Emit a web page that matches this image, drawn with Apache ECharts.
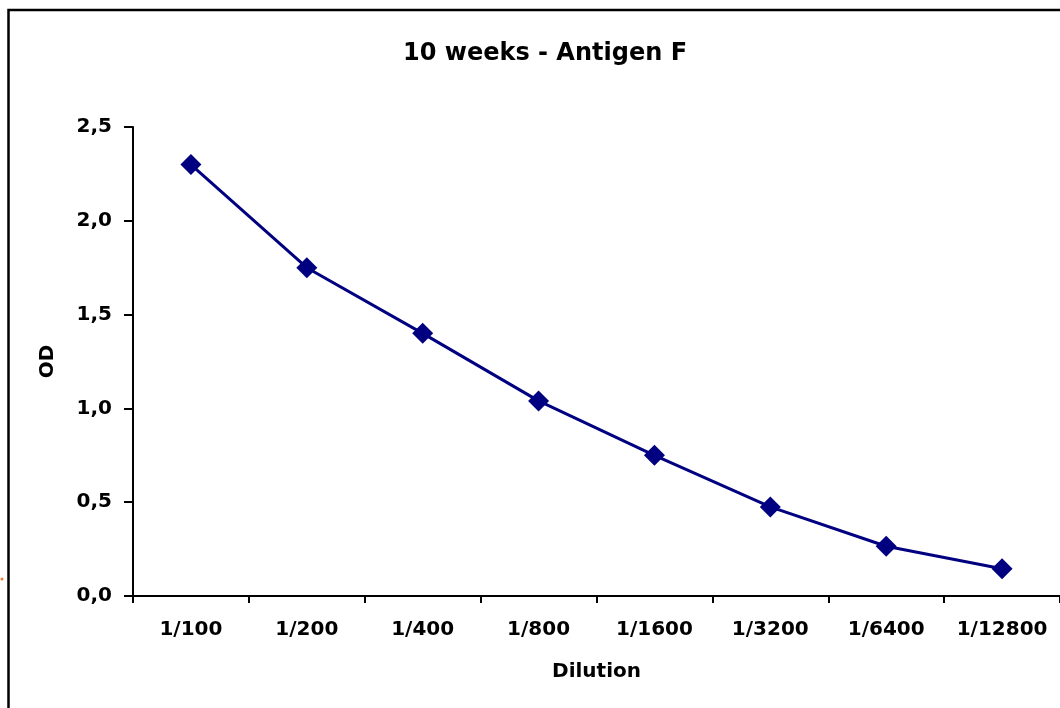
<!DOCTYPE html>
<html><head><meta charset="utf-8">
<script src="https://cdn.jsdelivr.net/npm/echarts@6/dist/echarts.min.js"></script>
<style>html,body{margin:0;padding:0;background:#fff}#c{width:1060px;height:708px}</style>
</head><body><div id="c"></div>
<script>
const categories = ['1/100','1/200','1/400','1/800','1/1600','1/3200','1/6400','1/12800'];
const odValues = [2.30, 1.75, 1.40, 1.04, 0.75, 0.475, 0.265, 0.145];
const yTicks = [0, 0.5, 1.0, 1.5, 2.0, 2.5];

const chart = echarts.init(document.getElementById('c'));
const font = '"DejaVu Sans", Verdana, sans-serif';
chart.setOption({
  animation: false,
  backgroundColor: '#fff',
  title: {
    text: '10 weeks - Antigen F', left: 540, top: 37, textAlign: 'center',
    textStyle: {fontFamily: font, fontWeight: 'bold', fontSize: 24, color: '#000'}
  },
  graphic: [
    {type: 'rect', shape: {x: 8.5, y: 10, width: 1200, height: 800}, style: {fill: 'none', stroke: '#000', lineWidth: 2.5}},
    {type: 'circle', shape: {cx: 2, cy: 579, r: 1.5}, style: {fill: '#f08030'}}
  ],
  grid: {left: 133, top: 127, right: 0, bottom: 112},
  xAxis: {
    type: 'category', data: categories, boundaryGap: true,
    name: 'Dilution', nameLocation: 'middle', nameGap: 66,
    nameTextStyle: {fontFamily: font, fontWeight: 'bold', fontSize: 20, color: '#000'},
    axisLine: {lineStyle: {color: '#000', width: 2}},
    axisTick: {show: true, interval: 0, length: 7, lineStyle: {color: '#000', width: 2}},
    axisLabel: {interval: 0, hideOverlap: false, fontFamily: font, fontWeight: 'bold', fontSize: 20, color: '#000', margin: 24}
  },
  yAxis: {
    type: 'value', min: 0, max: 2.5, interval: 0.5,
    name: 'OD', nameLocation: 'middle', nameGap: 75, nameRotate: 90,
    nameTextStyle: {fontFamily: font, fontWeight: 'bold', fontSize: 20, color: '#000'},
    axisLine: {show: true, lineStyle: {color: '#000', width: 2}},
    axisTick: {show: true, length: 9, lineStyle: {color: '#000', width: 2}},
    splitLine: {show: false},
    axisLabel: {fontFamily: font, fontWeight: 'bold', fontSize: 20, color: '#000', margin: 21,
      formatter: v => yTicks.includes(v) ? v.toFixed(1).replace('.', ',') : ''}
  },
  series: [{
    type: 'line', data: odValues,
    lineStyle: {color: '#000080', width: 3},
    itemStyle: {color: '#000080'},
    symbol: 'diamond', symbolSize: 21, showSymbol: true
  }]
});
</script></body></html>
